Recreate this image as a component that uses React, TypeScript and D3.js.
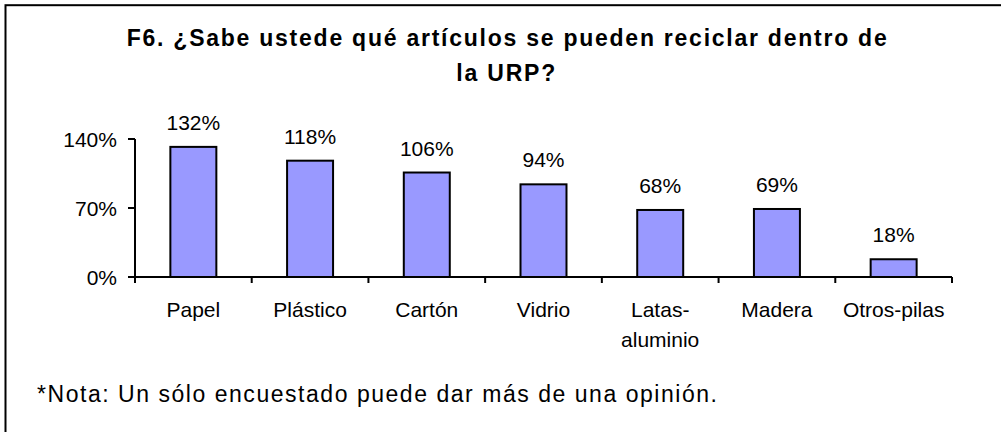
import React from "react";
import * as d3 from "d3";

const categories: string[][] = [
  ["Papel"],
  ["Plástico"],
  ["Cartón"],
  ["Vidrio"],
  ["Latas-", "aluminio"],
  ["Madera"],
  ["Otros-pilas"],
];
const values: number[] = [132, 118, 106, 94, 68, 69, 18];
const yTicks: number[] = [0, 70, 140];
const titleLines: string[] = [
  "F6. ¿Sabe ustede qué artículos se pueden reciclar dentro de",
  "la URP?",
];
const note = "*Nota: Un sólo encuestado puede dar más de una opinión.";

const W = 1001;
const H = 432;
const FONT = "Liberation Sans, Arial, sans-serif";

export default function App() {
  const x0 = 135;
  const x1 = 952;
  const yBase = 277;
  const yTop = 139;
  const idx = categories.map((_, i) => String(i));
  const x = d3
    .scaleBand<string>()
    .domain(idx)
    .range([x0, x1])
    .paddingInner(0.606)
    .paddingOuter(0.303);
  const y = d3.scaleLinear().domain([0, 140]).range([yBase, yTop]);
  const step = x.step();
  const tickXs = d3.range(categories.length + 1).map((i) => x0 + i * step);

  return (
    <svg
      width={W}
      height={H}
      style={{ position: "absolute", left: 0, top: 0, background: "#fff" }}
      fontFamily={FONT}
    >
      <rect x={0} y={0} width={W} height={H} fill="#fff" />
      <rect
        x={5.5}
        y={5.2}
        width={W + 20}
        height={H + 20}
        fill="none"
        stroke="#000"
        strokeWidth={2}
      />
      {/* title */}
      <text
        x={506.7}
        y={46}
        textAnchor="middle"
        fontSize={23}
        fontWeight="bold"
        textLength={760}
        lengthAdjust="spacing"
      >
        {titleLines[0]}
      </text>
      <text
        x={506.7}
        y={81}
        textAnchor="middle"
        fontSize={23}
        fontWeight="bold"
        letterSpacing={1.8}
      >
        {titleLines[1]}
      </text>

      {/* bars */}
      {values.map((v, i) => (
        <g key={i}>
          <rect
            x={x(String(i))!}
            y={y(v)}
            width={x.bandwidth()}
            height={yBase - y(v)}
            fill="#9999FF"
            stroke="#000"
            strokeWidth={2}
          />
          <text
            x={x(String(i))! + x.bandwidth() / 2}
            y={y(v) - 17}
            textAnchor="middle"
            fontSize={21}
          >
            {v}%
          </text>
        </g>
      ))}

      {/* y axis */}
      <line x1={x0} x2={x0} y1={yTop} y2={yBase} stroke="#000" strokeWidth={2} />
      {yTicks.map((t) => (
        <g key={t}>
          <line x1={x0 - 7} x2={x0} y1={y(t)} y2={y(t)} stroke="#000" strokeWidth={2} />
          <text x={117} y={y(t) + 7.5} textAnchor="end" fontSize={21}>
            {t}%
          </text>
        </g>
      ))}

      {/* x axis */}
      <line x1={x0 - 7} x2={x1} y1={yBase} y2={yBase} stroke="#000" strokeWidth={2} />
      {tickXs.map((tx, i) => (
        <line key={i} x1={tx} x2={tx} y1={yBase} y2={yBase + 6} stroke="#000" strokeWidth={2} />
      ))}
      {categories.map((lines, i) => (
        <text
          key={i}
          x={x(String(i))! + x.bandwidth() / 2}
          y={317}
          textAnchor="middle"
          fontSize={21}
        >
          {lines.map((l, j) => (
            <tspan key={j} x={x(String(i))! + x.bandwidth() / 2} dy={j === 0 ? 0 : 29.5}>
              {l}
            </tspan>
          ))}
        </text>
      ))}

      {/* note */}
      <text x={37} y={401.5} fontSize={23} textLength={680} lengthAdjust="spacing">
        {note}
      </text>
    </svg>
  );
}
